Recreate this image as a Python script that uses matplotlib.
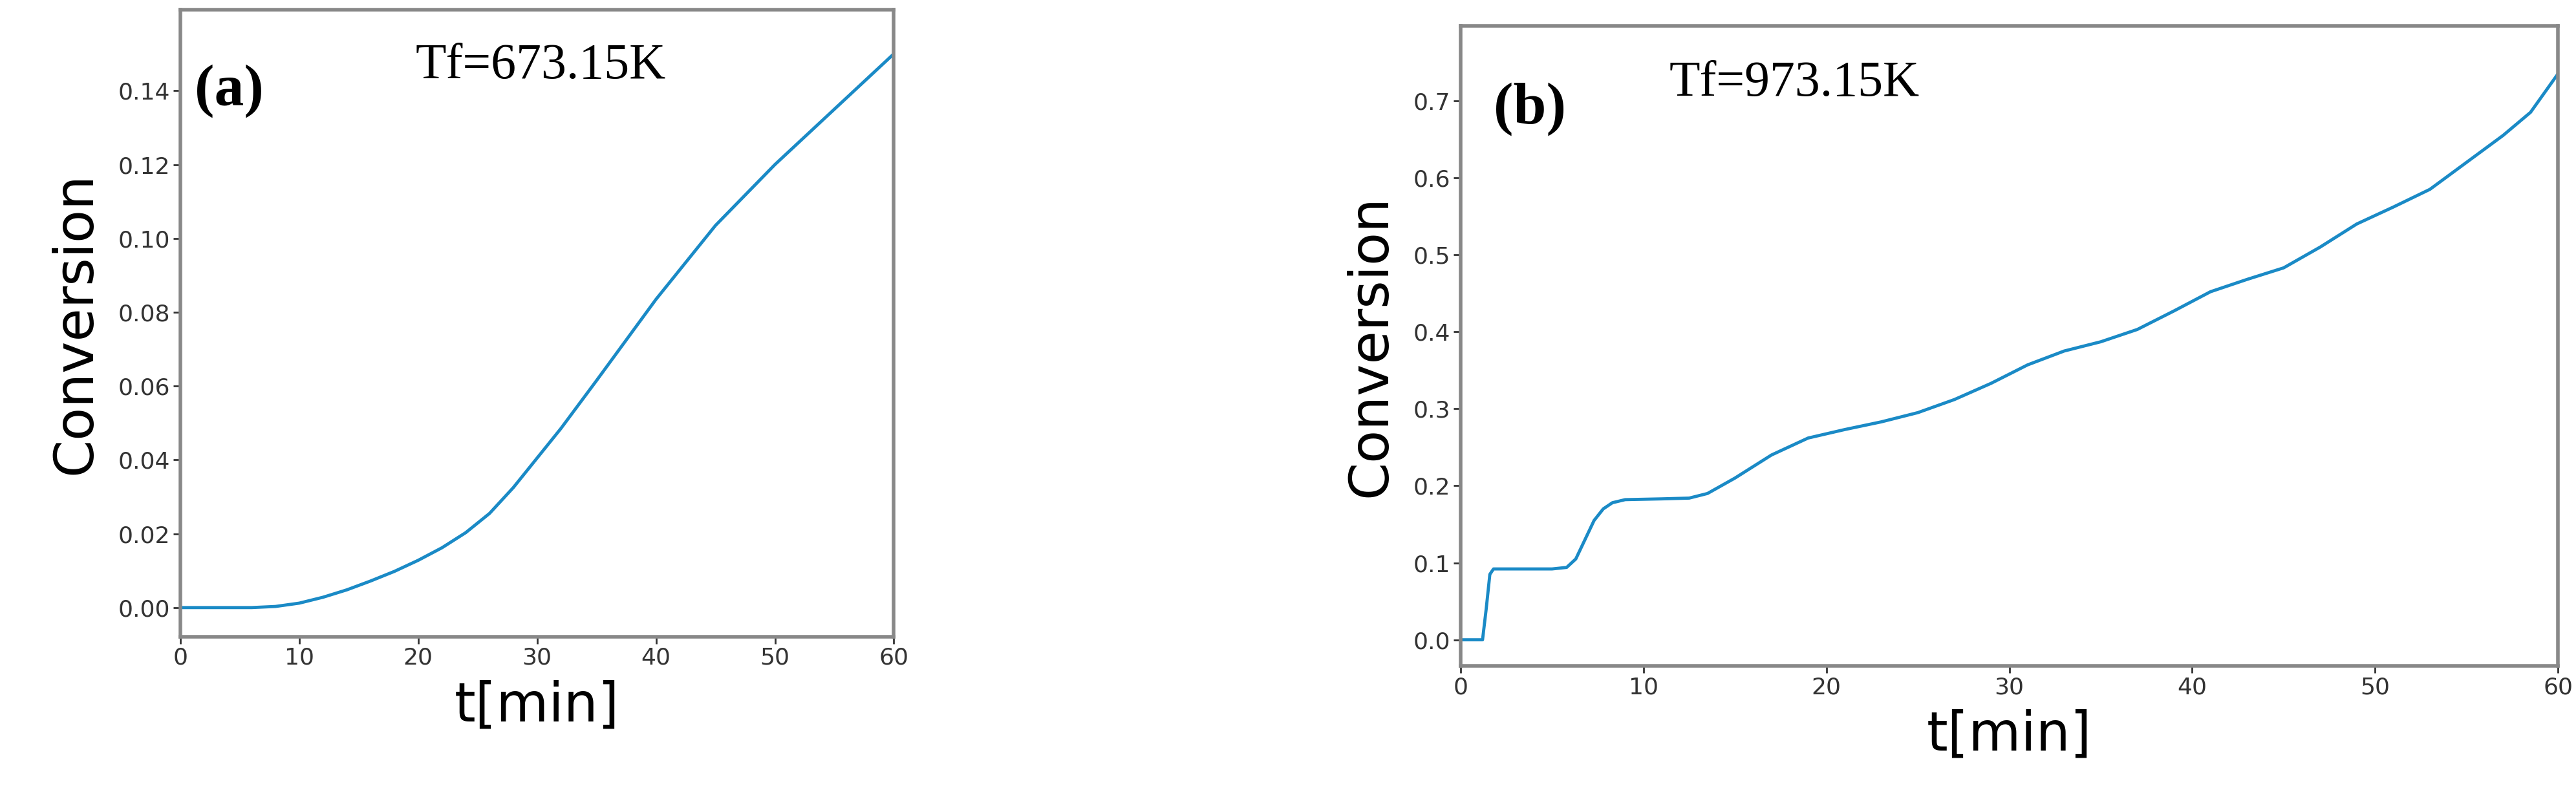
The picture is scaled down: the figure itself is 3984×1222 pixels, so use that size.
import matplotlib
matplotlib.use("Agg")
import matplotlib.pyplot as plt

t_a = [0, 2, 4, 6, 8, 10, 12, 14, 16, 18, 20, 22, 24, 26, 28, 30, 32, 35, 40, 45, 50, 55, 60]
conv_a = [0, 0, 0, 0, 0.0003, 0.0012, 0.0028, 0.0048, 0.0072, 0.0098, 0.0128, 0.0162, 0.0203, 0.0255, 0.0325, 0.0405, 0.0485, 0.0615, 0.0835, 0.1035, 0.1200, 0.1350, 0.1500]
t_b = [0, 1.2, 1.4, 1.6, 1.8, 3, 5, 5.8, 6.3, 6.8, 7.3, 7.8, 8.3, 9, 11, 12.5, 13.5, 15, 17, 19, 21, 23, 25, 27, 29, 31, 33, 35, 37, 39, 41, 43, 45, 47, 49, 51, 53, 55, 57, 58.5, 60]
conv_b = [0, 0, 0.04, 0.085, 0.092, 0.092, 0.092, 0.094, 0.105, 0.13, 0.155, 0.17, 0.178, 0.182, 0.183, 0.184, 0.19, 0.21, 0.24, 0.262, 0.273, 0.283, 0.295, 0.312, 0.333, 0.357, 0.375, 0.387, 0.403, 0.427, 0.452, 0.468, 0.483, 0.51, 0.54, 0.562, 0.585, 0.62, 0.655, 0.685, 0.735]

xticks = [0, 10, 20, 30, 40, 50, 60]
yticks_a = [0.00, 0.02, 0.04, 0.06, 0.08, 0.10, 0.12, 0.14]
yticks_b = [0.0, 0.1, 0.2, 0.3, 0.4, 0.5, 0.6, 0.7]

color = "#1a8ac6"
fig = plt.figure(figsize=(39.84, 12.22), dpi=100)
ax1 = fig.add_axes([0.070, 0.194, 0.277, 0.794])
ax2 = fig.add_axes([0.567, 0.157, 0.426, 0.810])

for ax, t, c, yt, fmt, ylim, lab, title, lx, tx in [
    (ax1, t_a, conv_a, yticks_a, "{:.2f}", (-0.0079, 0.162), "(a)", "Tf=673.15K", 0.02, 0.33),
    (ax2, t_b, conv_b, yticks_b, "{:.1f}", (-0.034, 0.797), "(b)", "Tf=973.15K", 0.03, 0.19),
]:
    ax.plot(t, c, color=color, lw=3.5)
    ax.set_xlim(0, 60)
    ax.set_ylim(*ylim)
    ax.set_xticks(xticks)
    ax.set_yticks(yt)
    ax.set_yticklabels([fmt.format(v) for v in yt])
    ax.tick_params(labelsize=26, width=2, length=8, colors="#333333")
    for s in ax.spines.values():
        s.set_linewidth(4)
        s.set_color("#888888")
    ax.set_xlabel("t[min]", fontsize=60, labelpad=12)
    ax.set_ylabel("Conversion", fontsize=60, labelpad=18)
    ax.text(lx, 0.87, lab, transform=ax.transAxes, fontsize=66, fontweight="bold",
            family="Liberation Serif", va="center")
    ax.text(tx, 0.91, title, transform=ax.transAxes, fontsize=56,
            family="Liberation Serif", va="center")

fig.savefig("out.png", dpi=100)
